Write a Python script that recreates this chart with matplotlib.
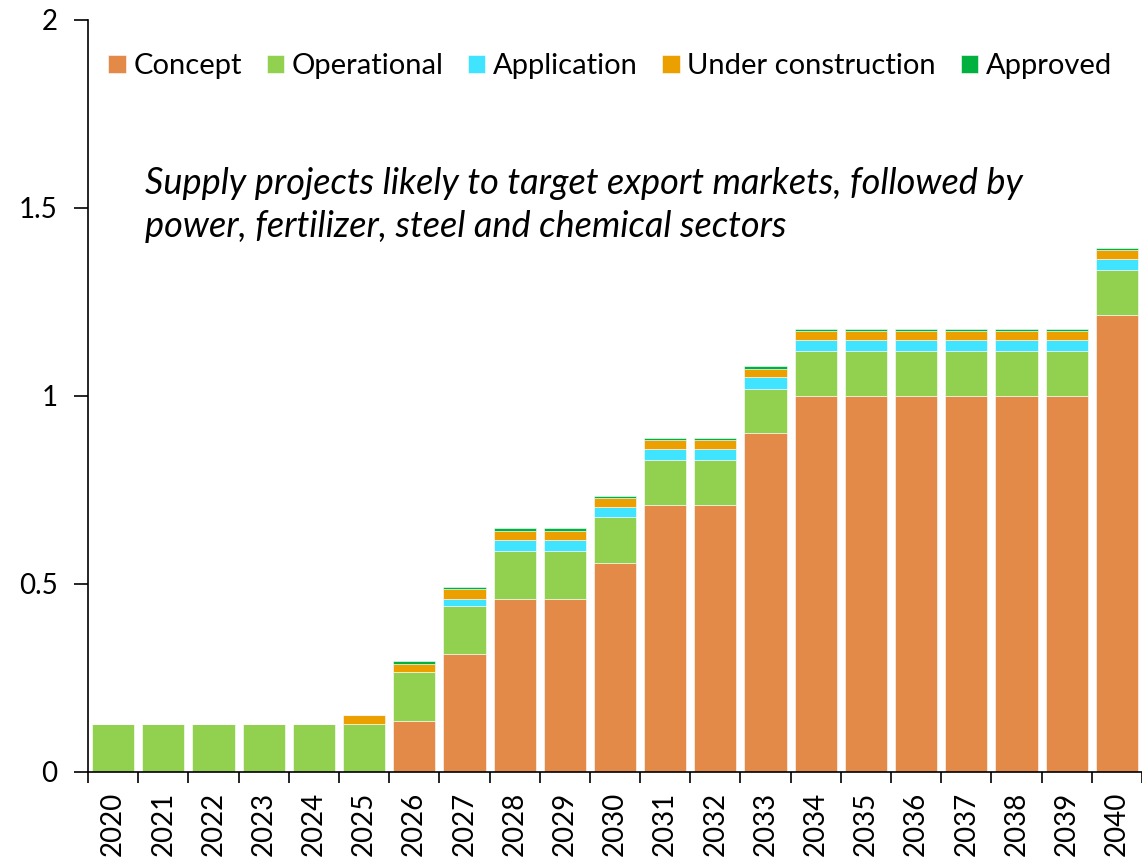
import matplotlib
matplotlib.use('Agg')
import matplotlib.pyplot as plt
import numpy as np

plt.rcParams['font.family'] = ['Lato', 'DejaVu Sans']

years = [str(y) for y in range(2020, 2041)]

concept = [0, 0, 0, 0, 0, 0, 0.136, 0.314, 0.459, 0.459, 0.557, 0.711, 0.711,
           0.901, 1.0, 1.0, 1.0, 1.0, 1.0, 1.0, 1.216]
operational = [0.127, 0.127, 0.127, 0.127, 0.127, 0.127, 0.129, 0.128, 0.129, 0.129,
               0.120, 0.119, 0.119, 0.118, 0.120, 0.120, 0.120, 0.120, 0.120, 0.120, 0.118]
application = [0, 0, 0, 0, 0, 0, 0, 0.018, 0.030, 0.030, 0.028, 0.029, 0.029,
               0.031, 0.029, 0.029, 0.029, 0.029, 0.029, 0.029, 0.030]
under_construction = [0, 0, 0, 0, 0, 0.024, 0.023, 0.026, 0.024, 0.024, 0.025, 0.024,
                      0.024, 0.023, 0.025, 0.025, 0.025, 0.025, 0.025, 0.025, 0.024]
approved = [0, 0, 0, 0, 0, 0, 0.006, 0.006, 0.006, 0.006, 0.004, 0.006, 0.006,
            0.006, 0.005, 0.005, 0.005, 0.005, 0.005, 0.005, 0.006]

series = [
    ("Concept", concept, "#E48A48"),
    ("Operational", operational, "#92D050"),
    ("Application", application, "#40E4FF"),
    ("Under construction", under_construction, "#ECA000"),
    ("Approved", approved, "#00B140"),
]

fig = plt.figure(figsize=(11.42, 8.6), dpi=100)
ax = fig.add_axes([88 / 1142, 1 - 772 / 860, 1 - 88 / 1142, (772 - 20) / 860])

x = np.arange(len(years))
bottom = np.zeros(len(years))
for name, vals, color in series:
    vals = np.array(vals)
    ax.bar(x, vals, bottom=bottom, width=0.84, color=color, label=name,
           edgecolor='white', linewidth=0.4)
    bottom += vals

ax.set_xlim(-0.5, len(years) - 0.5)
ax.set_ylim(0, 2)
ax.set_yticks([0, 0.5, 1, 1.5, 2])
ax.set_yticklabels(['0', '0.5', '1', '1.5', '2'])
ax.set_xticks(x)
ax.set_xticklabels(years, rotation=90)
ax.set_xticks(np.arange(-0.5, len(years)), minor=True)
ax.tick_params(axis='x', which='major', length=0, labelsize=20, pad=14)
ax.tick_params(axis='x', which='minor', length=8, width=1.2)
ax.tick_params(axis='y', length=10, width=1.2, labelsize=20, pad=12)
for s in ['top', 'right']:
    ax.spines[s].set_visible(False)
for s in ['left', 'bottom']:
    ax.spines[s].set_linewidth(1.2)

ax.legend(loc='upper left', bbox_to_anchor=(0.0, 0.983), ncol=5, frameon=False,
          fontsize=21, handlelength=0.6, handleheight=0.6, handletextpad=0.25,
          columnspacing=0.85, borderaxespad=0.3)

fig.text(145 / 1142, 1 - 167 / 860,
         "Supply projects likely to target export markets, followed by\n"
         "power, fertilizer, steel and chemical sectors",
         fontsize=26, style='italic', va='top', ha='left', linespacing=1.38)

fig.savefig('out.png', dpi=100)
